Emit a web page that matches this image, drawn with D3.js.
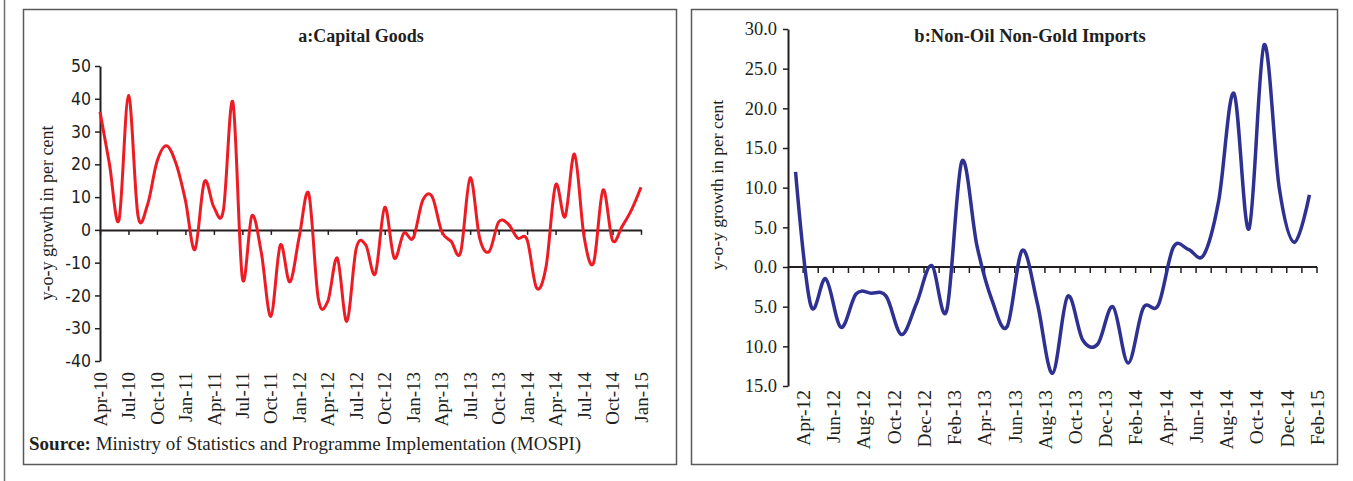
<!DOCTYPE html>
<html>
<head>
<meta charset="utf-8">
<script src="https://cdn.jsdelivr.net/npm/d3@7"></script>
<style>
  body { margin: 0; background: #fff; }
  svg { display: block; }
  .serif { font-family: "Liberation Serif", "DejaVu Serif", serif; fill: #231f20; }
  .sans { font-family: "Liberation Sans Narrow", "DejaVu Sans", sans-serif; font-stretch: condensed; fill: #231f20; }
</style>
</head>
<body>
<div id="chart"></div>
<script>
// ---- data ----
const capMonths = [
  'Apr-10','May-10','Jun-10','Jul-10','Aug-10','Sep-10','Oct-10','Nov-10','Dec-10',
  'Jan-11','Feb-11','Mar-11','Apr-11','May-11','Jun-11','Jul-11','Aug-11','Sep-11','Oct-11','Nov-11','Dec-11',
  'Jan-12','Feb-12','Mar-12','Apr-12','May-12','Jun-12','Jul-12','Aug-12','Sep-12','Oct-12','Nov-12','Dec-12',
  'Jan-13','Feb-13','Mar-13','Apr-13','May-13','Jun-13','Jul-13','Aug-13','Sep-13','Oct-13','Nov-13','Dec-13',
  'Jan-14','Feb-14','Mar-14','Apr-14','May-14','Jun-14','Jul-14','Aug-14','Sep-14','Oct-14','Nov-14','Dec-14',
  'Jan-15'
];
const capGrowth = [
  36, 20, 3, 41, 4.4, 7.6, 20.8, 25.7, 20.3,
  9, -6, 14.7, 6.9, 6, 39, -14.7, 4.3, -7, -26.4, -4.6, -15.9,
  -2, 11, -21, -21.8, -8.6, -27.9, -5.6, -4.6, -13.4, 6.9, -8.6, -1,
  -2.5, 9, 10.1, -0.5, -3.5, -6.8, 15.9, -2.5, -6.6, 2.4, 1.8, -2.5,
  -3, -17.7, -11.2, 13.7, 4, 23.1, -2, -10.1, 12.2, -3.2, 1, 6.1,
  13
];
const capTickLabels = ['Apr-10','Jul-10','Oct-10','Jan-11','Apr-11','Jul-11','Oct-11','Jan-12','Apr-12','Jul-12',
  'Oct-12','Jan-13','Apr-13','Jul-13','Oct-13','Jan-14','Apr-14','Jul-14','Oct-14','Jan-15'];
const capYTicks = [-40, -30, -20, -10, 0, 10, 20, 30, 40, 50];

const impMonths = [
  'Apr-12','May-12','Jun-12','Jul-12','Aug-12','Sep-12','Oct-12','Nov-12','Dec-12',
  'Jan-13','Feb-13','Mar-13','Apr-13','May-13','Jun-13','Jul-13','Aug-13','Sep-13','Oct-13','Nov-13','Dec-13',
  'Jan-14','Feb-14','Mar-14','Apr-14','May-14','Jun-14','Jul-14','Aug-14','Sep-14','Oct-14','Nov-14','Dec-14',
  'Jan-15','Feb-15'
];
const impGrowth = [
  12, -4.8, -1.5, -7.6, -3.4, -3.3, -3.7, -8.5, -4.6,
  0.2, -5.5, 13.3, 2.7, -4.2, -7.5, 2.1, -4.6, -13.4, -3.7, -9.2, -9.7,
  -5.0, -12.1, -5.2, -4.8, 2.5, 2.2, 1.5, 8.4, 21.9, 4.8, 28, 10,
  3.1, 9.1
];
const impTickLabels = ['Apr-12','Jun-12','Aug-12','Oct-12','Dec-12','Feb-13','Apr-13','Jun-13','Aug-13',
  'Oct-13','Dec-13','Feb-14','Apr-14','Jun-14','Aug-14','Oct-14','Dec-14','Feb-15'];
const impYTicks = [-15, -10, -5, 0, 5, 10, 15, 20, 25, 30];

const W = 1353, H = 481;
const ink = '#231f20';

const svg = d3.select('#chart').append('svg')
  .attr('width', W)
  .attr('height', H);

// outer frame line at far left and the two panel boxes
svg.append('line')
  .attr('x1', 4.5).attr('x2', 4.5).attr('y1', 0).attr('y2', H)
  .attr('stroke', '#6d6e71').attr('stroke-width', 1.5);

svg.append('rect')
  .attr('x', 23.5).attr('y', 9.5).attr('width', 653).attr('height', 455)
  .attr('fill', 'none').attr('stroke', '#58595b').attr('stroke-width', 1.5);

svg.append('rect')
  .attr('x', 691.5).attr('y', 9.5).attr('width', 646).attr('height', 455)
  .attr('fill', 'none').attr('stroke', '#58595b').attr('stroke-width', 1.5);

// ---------------- a: Capital Goods ----------------
const xCap = d3.scalePoint()
  .domain(capMonths)
  .range([100, 641]);

const yCap = d3.scaleLinear()
  .domain([-40, 50])
  .range([361, 66]);

const gCap = svg.append('g');

// y axis (plain hyphen for negatives, as in the original)
const yAxisCap = gCap.append('g')
  .attr('transform', 'translate(100,0)')
  .call(d3.axisLeft(yCap).tickValues(capYTicks).tickSize(5).tickSizeOuter(0).tickPadding(4)
    .tickFormat(d => String(d)));
yAxisCap.select('.domain').attr('stroke', ink).attr('stroke-width', 2);
yAxisCap.selectAll('.tick line').attr('stroke', ink).attr('stroke-width', 1.5);
yAxisCap.selectAll('.tick text')
  .attr('class', 'sans')
  .style('font-size', '17.5px')
  .attr('fill', '#333');

// zero line with quarterly ticks
const xAxisCap = gCap.append('g')
  .attr('transform', `translate(0,${yCap(0)})`)
  .call(d3.axisBottom(xCap).tickValues(capTickLabels).tickSize(5).tickSizeOuter(0).tickFormat(''));
xAxisCap.select('.domain').attr('stroke', ink).attr('stroke-width', 2);
xAxisCap.selectAll('.tick line').attr('stroke', ink).attr('stroke-width', 1.5);

// month labels at the foot of the plot
gCap.selectAll('.xlab')
  .data(capTickLabels)
  .enter()
  .append('text')
  .attr('class', 'serif')
  .attr('transform', d => `translate(${xCap(d)},372) rotate(-90)`)
  .attr('dy', '0.35em')
  .attr('text-anchor', 'end')
  .style('font-size', '19px')
  .text(d => d);

// the series
const lineCap = d3.line()
  .x((d, i) => xCap(capMonths[i]))
  .y(d => yCap(d))
  .curve(d3.curveCardinal.tension(0));

gCap.append('path')
  .datum(capGrowth)
  .attr('d', lineCap)
  .attr('fill', 'none')
  .attr('stroke', '#ed1c24')
  .attr('stroke-width', 3)
  .attr('stroke-linejoin', 'round');

gCap.append('text')
  .attr('class', 'serif')
  .attr('x', 361).attr('y', 42)
  .attr('text-anchor', 'middle')
  .style('font-size', '18px')
  .style('font-weight', 'bold')
  .text('a:Capital Goods');

gCap.append('text')
  .attr('class', 'serif')
  .attr('transform', 'translate(47,213) rotate(-90)')
  .attr('dy', '0.35em')
  .attr('text-anchor', 'middle')
  .style('font-size', '18px')
  .text('y-o-y growth in per cent');

const src = gCap.append('text')
  .attr('class', 'serif')
  .attr('x', 29).attr('y', 450)
  .style('font-size', '19px');
src.append('tspan').style('font-weight', 'bold').text('Source:');
src.append('tspan').text(' Ministry of Statistics and Programme Implementation (MOSPI)');

// ---------------- b: Non-Oil Non-Gold Imports ----------------
const xImp = d3.scaleBand()
  .domain(impMonths)
  .range([788, 1317])
  .padding(0);

const yImp = d3.scaleLinear()
  .domain([-15, 30])
  .range([386, 29]);

const gImp = svg.append('g');

const yAxisImp = gImp.append('g')
  .attr('transform', 'translate(788,0)')
  .call(d3.axisLeft(yImp).tickValues(impYTicks).tickSize(5).tickSizeOuter(0).tickPadding(6)
    .tickFormat(d => d3.format('.1f')(Math.abs(d))));
yAxisImp.select('.domain').attr('stroke', ink).attr('stroke-width', 2);
yAxisImp.selectAll('.tick line').attr('stroke', ink).attr('stroke-width', 1.5);
yAxisImp.selectAll('.tick text')
  .attr('class', 'serif')
  .style('font-size', '18.5px')
  .attr('fill', '#333');

// zero line, one tick per month boundary
const monthEdges = impMonths.map(m => xImp(m) + xImp.bandwidth());
const zeroImp = gImp.append('g').attr('transform', `translate(0,${yImp(0)})`);
zeroImp.append('line')
  .attr('x1', xImp.range()[0]).attr('x2', xImp.range()[1])
  .attr('stroke', ink).attr('stroke-width', 2);
zeroImp.selectAll('.mtick')
  .data(monthEdges)
  .enter()
  .append('line')
  .attr('x1', d => d).attr('x2', d => d)
  .attr('y1', 0).attr('y2', 6)
  .attr('stroke', ink).attr('stroke-width', 1.5);

gImp.selectAll('.xlab')
  .data(impTickLabels)
  .enter()
  .append('text')
  .attr('class', 'serif')
  .attr('transform', d => `translate(${xImp(d) + xImp.bandwidth()},390) rotate(-90)`)
  .attr('dy', '0.35em')
  .attr('text-anchor', 'end')
  .style('font-size', '19.5px')
  .text(d => d);

const lineImp = d3.line()
  .x((d, i) => xImp(impMonths[i]) + xImp.bandwidth() / 2)
  .y(d => yImp(d))
  .curve(d3.curveCardinal.tension(0));

gImp.append('path')
  .datum(impGrowth)
  .attr('d', lineImp)
  .attr('fill', 'none')
  .attr('stroke', '#2e3192')
  .attr('stroke-width', 3.5)
  .attr('stroke-linejoin', 'round');

gImp.append('text')
  .attr('class', 'serif')
  .attr('x', 1030).attr('y', 42)
  .attr('text-anchor', 'middle')
  .style('font-size', '18.5px')
  .style('font-weight', 'bold')
  .text('b:Non-Oil Non-Gold Imports');

gImp.append('text')
  .attr('class', 'serif')
  .attr('transform', 'translate(717,185) rotate(-90)')
  .attr('dy', '0.35em')
  .attr('text-anchor', 'middle')
  .style('font-size', '17.5px')
  .text('y-o-y growth in per cent');
</script>
</body>
</html>
